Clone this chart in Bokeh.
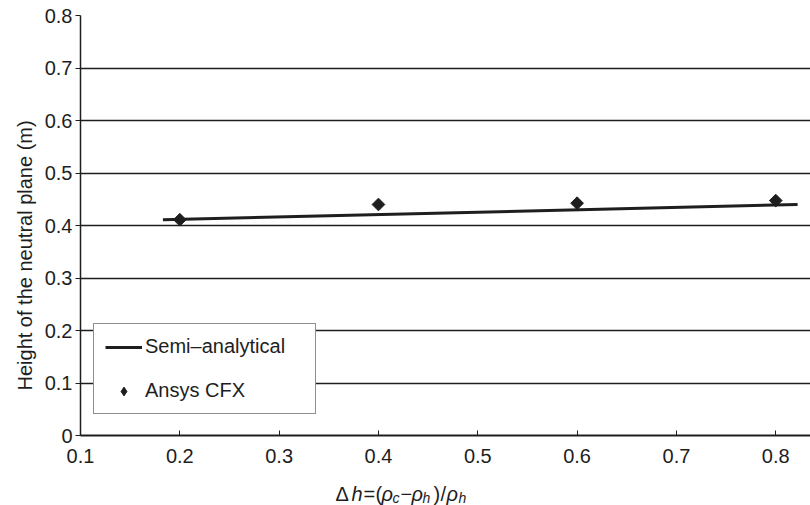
import math
from bokeh.plotting import figure
from bokeh.layouts import column
from bokeh.models import (Range1d, FixedTicker, Legend, LegendItem, Title,
                          ColumnDataSource)
from bokeh.core.properties import value
from bokeh.embed import file_html
from bokeh.resources import INLINE

# ---- data ----
line_x = [0.183, 0.822]
line_y = [0.411, 0.440]
cfx_x = [0.2, 0.4, 0.6, 0.8]
cfx_y = [0.411, 0.440, 0.4425, 0.4475]
x_ticks = [0.1, 0.2, 0.3, 0.4, 0.5, 0.6, 0.7, 0.8]
y_ticks = [0, 0.1, 0.2, 0.3, 0.4, 0.5, 0.6, 0.7, 0.8]
series_names = ["Semi\u2013analytical", "Ansys CFX"]
y_title = "Height of the neutral plane (m)"

FONT = "Liberation Sans"
INK = "#1e1e1e"

X0, X1 = 0.1, 0.835
Y0, Y1 = 0.0, 0.8
W = 810
BL = 80
MAIN_H, STRIP_H = 475, 30

p = figure(width=W, height=MAIN_H, output_backend="svg", toolbar_location=None,
           x_range=Range1d(X0, X1), y_range=Range1d(Y0, Y1),
           min_border_left=BL, min_border_right=0, min_border_top=15,
           min_border_bottom=40)
p.outline_line_color = None
p.background_fill_color = "white"
p.border_fill_color = "white"
p.xgrid.grid_line_color = None
p.ygrid.grid_line_color = INK
p.ygrid.grid_line_width = 1.3
p.ygrid.ticker = FixedTicker(ticks=y_ticks)

p.xaxis.ticker = FixedTicker(ticks=x_ticks)
p.yaxis.ticker = FixedTicker(ticks=y_ticks)
p.yaxis.major_label_overrides = {0: "0"}
p.xaxis.minor_tick_line_color = None
p.yaxis.minor_tick_line_color = None
for ax in (p.xaxis, p.yaxis):
    ax.major_label_text_font = FONT
    ax.major_label_text_font_size = "20px"
    ax.major_label_text_color = INK
    ax.axis_line_color = INK
    ax.major_tick_line_color = INK
p.xaxis.axis_line_width = 2.2
p.yaxis.axis_line_width = 1.5
p.xaxis.major_tick_in = 5
p.xaxis.major_tick_out = 0
p.xaxis.major_label_standoff = 13
p.yaxis.major_tick_in = 0
p.yaxis.major_tick_out = 5
p.yaxis.major_label_standoff = 3

src_line = ColumnDataSource(dict(x=line_x, y=line_y))
src_pts = ColumnDataSource(dict(x=cfx_x, y=cfx_y))
r_line = p.line("x", "y", source=src_line, line_color=INK, line_width=3)
# legend proxy (small diamond), hidden underneath the plotted markers
r_leg = p.scatter("x", "y", source=src_pts, marker="diamond", size=10,
                  fill_color=INK, line_color=INK)
p.scatter("x", "y", source=src_pts, marker="square", angle=math.pi / 4,
          size=9, fill_color=INK, line_color=INK)

legend = Legend(items=[LegendItem(label=series_names[0], renderers=[r_line]),
                       LegendItem(label=series_names[1], renderers=[r_leg])],
                location=(13, 21), orientation="vertical",
                border_line_color=INK, border_line_width=1.5,
                background_fill_color="white", background_fill_alpha=1,
                label_text_font=FONT, label_text_font_size="20px",
                label_text_color=INK, glyph_width=37, glyph_height=22,
                label_height=22, label_width=159, label_standoff=3,
                spacing=21, padding=11, margin=0)
p.add_layout(legend, "center")

# y axis title in the left panel
p.add_layout(Title(text=y_title, align="left", offset=45, standoff=11,
                   text_font=FONT, text_font_size="20px",
                   text_font_style="normal", text_color=INK), "left")

# x axis title strip (frame aligned with the main plot's frame)
s = figure(width=W, height=STRIP_H, output_backend="svg", toolbar_location=None,
           title=None, x_range=p.x_range, y_range=Range1d(STRIP_H, 0),
           x_axis_location=None, y_axis_location=None, min_border=0,
           min_border_left=BL)
s.outline_line_color = None
s.grid.visible = False
s.background_fill_color = "white"
s.border_fill_color = "white"

def px_to_x(px):
    return X0 + (px - BL) / (W - BL) * (X1 - X0)

title_parts = ["\u0394", "h", "=", "(", "\u03c1", "c", "\u2212", "\u03c1", "h",
               ")", "/", "\u03c1", "h"]
part_px = [335, 351, 363, 375, 381, 392, 400, 411, 422, 433, 440, 446, 458]
part_style = ["normal", "italic", "normal", "normal", "italic", "italic",
              "normal", "italic", "italic", "normal", "normal", "italic", "italic"]
part_sub = [False, False, False, False, False, True, False, False, True,
            False, False, False, True]
BASE = 493 - MAIN_H
for t, px, st, sub in zip(title_parts, part_px, part_style, part_sub):
    s.text(x=[px_to_x(px)], y=[BASE + (4 if sub else 0)], text=[t],
           text_align="left", text_baseline="alphabetic",
           text_font=value(FONT), text_font_style=st,
           text_font_size="14px" if sub else "20px", text_color=INK)

layout = column(p, s, spacing=0)
open("out.html", "w").write(file_html(layout, INLINE))
